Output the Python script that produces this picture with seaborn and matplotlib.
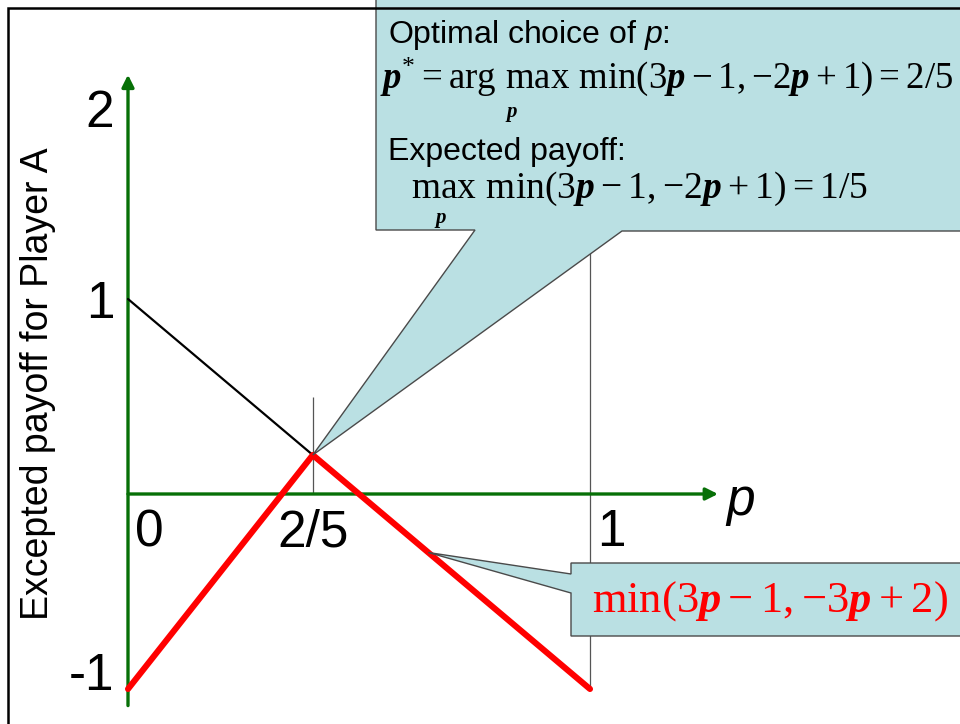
import numpy as np
import matplotlib.pyplot as plt
import seaborn as sns
from matplotlib.patches import Polygon, Rectangle

# payoff lines
p_black = [0.0, 0.4]
payoff_black = [1.0, 0.2]
p_red = [0.0, 0.4, 1.0]
payoff_red = [-1.0, 0.2, -1.0]

# tick labels
y_ticks = [2, 1, -1]
y_tick_labels = ["2", "1", "-1"]
x_ticks = [0.0, 0.4, 1.0]
x_tick_labels = ["0", "2/5", "1"]

# thin vertical guides
guide_p = [0.4, 1.0]
guide_lo = [0.0, -1.0]
guide_hi = [0.5, 1.5]

opt_point = (0.4, 0.2)
red_note_p = 0.65

sns.set_theme(style="white")
plt.rcParams["font.family"] = ["Liberation Sans", "DejaVu Sans"]
plt.rcParams["text.color"] = "black"
plt.rcParams["mathtext.fontset"] = "custom"
plt.rcParams["mathtext.rm"] = "Liberation Serif"
plt.rcParams["mathtext.it"] = "Liberation Sans:italic"
plt.rcParams["mathtext.bf"] = "Liberation Serif:italic:bold"

W, H = 960, 724
fig = plt.figure(figsize=(W / 100, H / 100), dpi=100)
ax = fig.add_axes([0, 0, 1, 1])
ax.set_xlim(-128 / 462, (W - 128) / 462)
ax.set_ylim((494 - H) / 195, 494 / 195)
ax.axis("off")


def fx(x):
    return x / W


def fy(y):
    return 1 - y / H


green = "#077007"
fill = "#BAE0E3"
edge = "#4a4a4a"

# axes arrows
ax.annotate("", xy=(0, 2.15), xytext=(0, -1.085),
            arrowprops=dict(arrowstyle="-|>", color=green, lw=2.4, mutation_scale=18, shrinkA=0, shrinkB=0))
ax.annotate("", xy=(1.277, 0), xytext=(0, 0),
            arrowprops=dict(arrowstyle="-|>", color=green, lw=2.4, mutation_scale=18, shrinkA=0, shrinkB=0))

ax.vlines(guide_p, guide_lo, guide_hi, color="#555555", lw=0.9, zorder=1)

sns.lineplot(x=p_black, y=payoff_black, color="black", lw=1.6, ax=ax, sort=False, zorder=3)
sns.lineplot(x=p_red, y=payoff_red, color="red", lw=4.4, ax=ax, sort=False, zorder=4)

# tick labels sit a little off their values on the slide
y_nudge = [-0.05, -0.03, 0.065]
for v, lab, dy in zip(y_ticks, y_tick_labels, y_nudge):
    ax.text(-0.03, v + dy, lab, fontsize=37, ha="right", va="center")
for v, lab, ha in zip(x_ticks, x_tick_labels, ["left", "center", "left"]):
    off = 0.015 if ha == "left" else 0
    ax.text(v + off, -0.2, lab, fontsize=37, ha=ha, va="center")
ax.text(1.295, -0.04, "p", fontsize=37, style="italic", ha="left", va="center")

fig.text(fx(38), fy(384), "Excepted payoff for Player A", fontsize=27, rotation=90,
         ha="center", va="center")

# callout 1
tip = fig.transFigure.inverted().transform(ax.transData.transform(opt_point))
pts = [(fx(376), fy(-10)), (fx(376), fy(230)), (fx(475), fy(230)), tuple(tip),
       (fx(622), fy(231)), (fx(980), fy(231)), (fx(980), fy(-10))]
fig.add_artist(Polygon(pts, closed=True, fc=fill, ec=edge, lw=1.0, transform=fig.transFigure, zorder=2))

fig.text(fx(388), fy(43), "Optimal choice of $p$:", fontsize=23, va="baseline")
fig.text(fx(380), fy(88),
         r"$\mathbf{p}^{*}=\mathrm{arg}\ \mathrm{max}\ \mathrm{min}(3\mathbf{p}-1,{-}2\mathbf{p}+1)=2/5$",
         fontsize=26.5, va="baseline")
fig.text(fx(512), fy(114), r"$\mathbf{p}$", fontsize=15, ha="center", va="center")
fig.text(fx(388), fy(160), "Expected payoff:", fontsize=23, va="baseline")
fig.text(fx(411), fy(198),
         r"$\mathrm{max}\ \mathrm{min}(3\mathbf{p}-1,{-}2\mathbf{p}+1)=1/5$",
         fontsize=27, va="baseline")
fig.text(fx(441), fy(220), r"$\mathbf{p}$", fontsize=15, ha="center", va="center")

# callout 2
tip2 = fig.transFigure.inverted().transform(
    ax.transData.transform((red_note_p, np.interp(red_note_p, p_red, payoff_red))))
pts2 = [(fx(571), fy(563)), (fx(571), fy(574)), tuple(tip2), (fx(571), fy(593)),
        (fx(571), fy(636)), (fx(980), fy(636)), (fx(980), fy(563))]
fig.add_artist(Polygon(pts2, closed=True, fc=fill, ec=edge, lw=1.0, transform=fig.transFigure, zorder=2))
fig.text(fx(592), fy(612), r"$\mathrm{min}(3\mathbf{p}-1,{-}3\mathbf{p}+2)$", fontsize=32,
         color="red", va="baseline")

# slide frame
fig.add_artist(Rectangle((fx(8), fy(760)), fx(1000), fy(8) - fy(760), fill=False, ec="black", lw=1.8,
                         transform=fig.transFigure, zorder=5))

fig.savefig("out.png", dpi=100)
